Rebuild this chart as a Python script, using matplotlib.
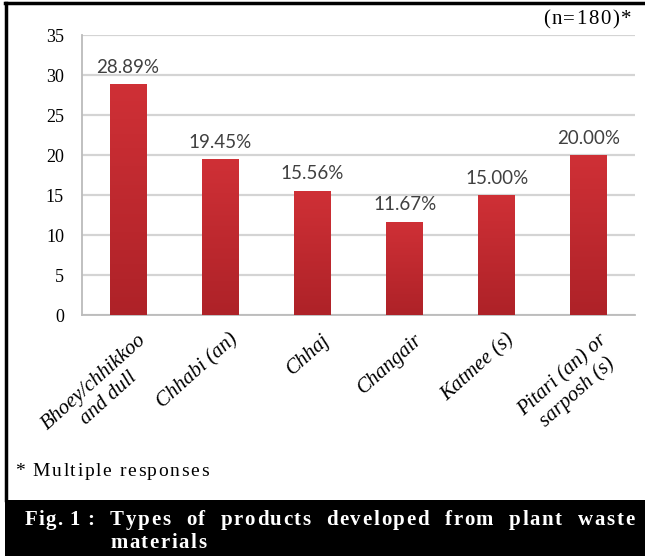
import matplotlib
matplotlib.use('Agg')
import matplotlib.pyplot as plt
import numpy as np
from matplotlib.patches import Rectangle
from matplotlib.lines import Line2D
from matplotlib.transforms import ScaledTranslation
from matplotlib.font_manager import FontProperties

# data
products = ['Bhoey/chhikkoo\nand dull', 'Chhabi (an)', 'Chhaj', 'Changair',
            'Katmee (s)', 'Pitari (an) or\nsarposh (s)']
percent = [28.89, 19.45, 15.56, 11.67, 15.00, 20.00]
yticks = [0, 5, 10, 15, 20, 25, 30, 35]

W, H, DPI = 645, 556, 100
SERIF = 'Liberation Serif'

fig = plt.figure(figsize=(W / DPI, H / DPI), dpi=DPI)
fig.patch.set_facecolor('white')


def px(x, y):
    # pixel (from top-left) -> figure fraction
    return x / W, 1 - y / H


# plot area
left, right, top, bottom = 82, 635, 35, 315
ax = fig.add_axes([left / W, 1 - bottom / H, (right - left) / W, (bottom - top) / H])

xpos = np.arange(len(products))
bars = ax.bar(xpos, percent, width=0.4, color='#C82A30', zorder=3)

# slight vertical shading inside each bar (darker toward the base)
grad = np.linspace(0, 1, 64).reshape(-1, 1)
cmap = matplotlib.colors.LinearSegmentedColormap.from_list('bar', ['#AE2228', '#CF3036'])
for b in bars:
    im = ax.imshow(grad, cmap=cmap, aspect='auto', origin='lower', zorder=3.5,
                   extent=[b.get_x(), b.get_x() + b.get_width(), 0, b.get_height()])
    im.set_clip_path(b)

for x, v in zip(xpos, percent):
    ax.annotate(f'{v:.2f}%', (x, v), xytext=(0, 6), textcoords='offset points',
                ha='center', va='bottom', fontsize=13.5, color='#404040',
                family='Lato', zorder=5)

ax.set_xlim(-0.5, len(products) - 0.5)
ax.set_ylim(0, 35)
ax.set_yticks(yticks)
ax.yaxis.grid(True, color='#D4D4D4', lw=1.6, zorder=0)
ax.set_axisbelow(True)
for s in ['top', 'right']:
    ax.spines[s].set_visible(False)
for s in ['left', 'bottom']:
    ax.spines[s].set_color('#BBBBBB')
    ax.spines[s].set_linewidth(1.3)

ax.tick_params(axis='y', length=0, pad=13, labelsize=13)
for lbl in ax.get_yticklabels():
    lbl.set_family(SERIF)

ax.set_xticks(xpos)
ax.set_xticklabels(products, rotation=42, ha='right', va='top',
                   rotation_mode='anchor', multialignment='center',
                   family=SERIF, style='italic', fontsize=15)
ax.tick_params(axis='x', length=0, pad=11)
for lbl in ax.get_xticklabels():
    lbl.set_transform(lbl.get_transform() + ScaledTranslation(9 / DPI, 0, fig.dpi_scale_trans))

renderer = fig.canvas.get_renderer()


def char_width(ch, fp):
    w, _, _ = renderer.get_text_width_height_descent(ch, fp, ismath=False)
    return w


def tracked(x, y, s, fp, track, color='black', draw=True):
    for ch in s:
        if draw and ch != ' ':
            fig.text(*px(x, y), ch, fontproperties=fp, color=color, ha='left', va='center')
        x += char_width(ch, fp) + track
    return x


# sample size note (right aligned) and footnote
fp_n = FontProperties(family=SERIF, size=15)
nw = tracked(0, 0, '(n=180)*', fp_n, 1.5, draw=False) - 1.5
tracked(631 - nw, 20, '(n=180)*', fp_n, 1.5)

fp_note = FontProperties(family=SERIF, size=14)
tracked(15, 472, '* Multiple responses', fp_note, 1.6)

# frame around chart
fig.add_artist(Line2D([5 / W, 1], [1 - 3 / H, 1 - 3 / H], color='black', lw=2.5))
fig.add_artist(Line2D([6 / W, 6 / W], [1 - 3 / H, 56 / H], color='black', lw=2.5))

# caption band
fig.add_artist(Rectangle((5 / W, 0), 1 - 5 / W, 56 / H, transform=fig.transFigure,
                         facecolor='black', edgecolor='none'))
fp_cap = FontProperties(family=SERIF, size=15, weight='bold')
tracked(25, 520, 'Fig. 1 :', fp_cap, 1.0, color='white')

words = 'Types of products developed from plant waste'.split()
trk = 1.6
widths = [tracked(0, 0, w, fp_cap, trk, draw=False) - trk for w in words]
x0, x1 = 110, 634
gap = (x1 - x0 - sum(widths)) / (len(words) - 1)
x = x0
for w, wd in zip(words, widths):
    tracked(x, 520, w, fp_cap, trk, color='white')
    x += wd + gap
tracked(110, 543, 'materials', fp_cap, trk, color='white')

fig.savefig('out.png', dpi=DPI, facecolor='white')
